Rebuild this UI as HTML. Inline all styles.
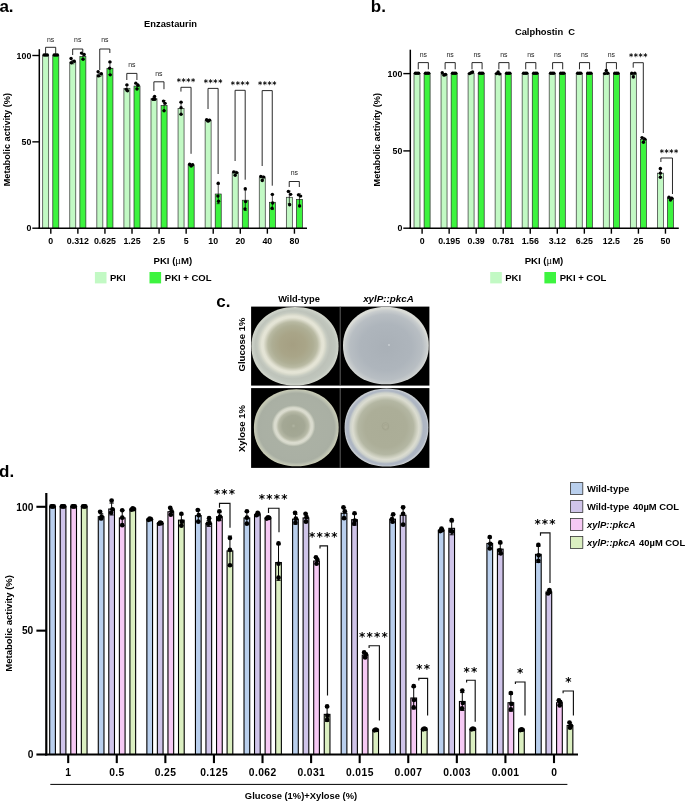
<!DOCTYPE html>
<html lang="en">
<head>
<meta charset="utf-8">
<title>Figure</title>
<style>
html,body{margin:0;padding:0;background:#fff;}
body{width:685px;height:801px;overflow:hidden;font-family:"Liberation Sans",Arial,Helvetica,sans-serif;}
svg{display:block;}
</style>
</head>
<body>
<svg width="685" height="801" viewBox="0 0 685 801" font-family='&quot;Liberation Sans&quot;, Arial, Helvetica, sans-serif'>
<rect x="0" y="0" width="685" height="801" fill="#fff"/>
<g id="panel-a">
<rect x="42.70" y="55.50" width="6.00" height="172.70" fill="#c2f9c4" stroke="#333" stroke-width="0.7"/>
<circle cx="44.10" cy="55.07" r="1.7" fill="#000"/>
<circle cx="45.70" cy="55.07" r="1.7" fill="#000"/>
<circle cx="47.30" cy="55.07" r="1.7" fill="#000"/>
<rect x="52.80" y="55.50" width="6.00" height="172.70" fill="#3df43f" stroke="#2a2a2a" stroke-width="0.7"/>
<circle cx="54.20" cy="55.07" r="1.7" fill="#000"/>
<circle cx="55.80" cy="55.07" r="1.7" fill="#000"/>
<circle cx="57.40" cy="55.07" r="1.7" fill="#000"/>
<rect x="69.77" y="62.06" width="6.00" height="166.14" fill="#c2f9c4" stroke="#333" stroke-width="0.7"/>
<line x1="72.77" y1="60.34" x2="72.77" y2="63.79" stroke="#000" stroke-width="0.7" stroke-linecap="butt"/>
<line x1="71.27" y1="60.34" x2="74.27" y2="60.34" stroke="#000" stroke-width="0.7" stroke-linecap="butt"/>
<line x1="71.27" y1="63.79" x2="74.27" y2="63.79" stroke="#000" stroke-width="0.7" stroke-linecap="butt"/>
<circle cx="71.07" cy="58.44" r="1.7" fill="#000"/>
<circle cx="74.27" cy="61.20" r="1.7" fill="#000"/>
<circle cx="71.37" cy="62.75" r="1.7" fill="#000"/>
<rect x="79.87" y="56.54" width="6.00" height="171.66" fill="#3df43f" stroke="#2a2a2a" stroke-width="0.7"/>
<line x1="82.87" y1="53.95" x2="82.87" y2="59.13" stroke="#000" stroke-width="0.7" stroke-linecap="butt"/>
<line x1="81.37" y1="53.95" x2="84.37" y2="53.95" stroke="#000" stroke-width="0.7" stroke-linecap="butt"/>
<line x1="81.37" y1="59.13" x2="84.37" y2="59.13" stroke="#000" stroke-width="0.7" stroke-linecap="butt"/>
<circle cx="81.47" cy="53.08" r="1.7" fill="#000"/>
<circle cx="84.17" cy="54.46" r="1.7" fill="#000"/>
<circle cx="83.07" cy="59.30" r="1.7" fill="#000"/>
<rect x="96.84" y="74.84" width="6.00" height="153.36" fill="#c2f9c4" stroke="#333" stroke-width="0.7"/>
<line x1="99.84" y1="73.29" x2="99.84" y2="76.40" stroke="#000" stroke-width="0.7" stroke-linecap="butt"/>
<line x1="98.34" y1="73.29" x2="101.34" y2="73.29" stroke="#000" stroke-width="0.7" stroke-linecap="butt"/>
<line x1="98.34" y1="76.40" x2="101.34" y2="76.40" stroke="#000" stroke-width="0.7" stroke-linecap="butt"/>
<circle cx="98.14" cy="71.73" r="1.7" fill="#000"/>
<circle cx="101.34" cy="73.81" r="1.7" fill="#000"/>
<circle cx="98.44" cy="75.88" r="1.7" fill="#000"/>
<rect x="106.94" y="68.28" width="6.00" height="159.92" fill="#3df43f" stroke="#2a2a2a" stroke-width="0.7"/>
<line x1="109.94" y1="62.06" x2="109.94" y2="74.50" stroke="#000" stroke-width="0.7" stroke-linecap="butt"/>
<line x1="108.44" y1="62.06" x2="111.44" y2="62.06" stroke="#000" stroke-width="0.7" stroke-linecap="butt"/>
<line x1="108.44" y1="74.50" x2="111.44" y2="74.50" stroke="#000" stroke-width="0.7" stroke-linecap="butt"/>
<circle cx="109.94" cy="61.89" r="1.7" fill="#000"/>
<circle cx="109.64" cy="68.28" r="1.7" fill="#000"/>
<circle cx="110.24" cy="74.84" r="1.7" fill="#000"/>
<rect x="123.91" y="88.31" width="6.00" height="139.89" fill="#c2f9c4" stroke="#333" stroke-width="0.7"/>
<line x1="126.91" y1="85.55" x2="126.91" y2="91.08" stroke="#000" stroke-width="0.7" stroke-linecap="butt"/>
<line x1="125.41" y1="85.55" x2="128.41" y2="85.55" stroke="#000" stroke-width="0.7" stroke-linecap="butt"/>
<line x1="125.41" y1="91.08" x2="128.41" y2="91.08" stroke="#000" stroke-width="0.7" stroke-linecap="butt"/>
<circle cx="126.91" cy="84.86" r="1.7" fill="#000"/>
<circle cx="126.31" cy="89.35" r="1.7" fill="#000"/>
<circle cx="127.51" cy="90.73" r="1.7" fill="#000"/>
<rect x="134.01" y="86.07" width="6.00" height="142.13" fill="#3df43f" stroke="#2a2a2a" stroke-width="0.7"/>
<line x1="137.01" y1="83.65" x2="137.01" y2="88.49" stroke="#000" stroke-width="0.7" stroke-linecap="butt"/>
<line x1="135.51" y1="83.65" x2="138.51" y2="83.65" stroke="#000" stroke-width="0.7" stroke-linecap="butt"/>
<line x1="135.51" y1="88.49" x2="138.51" y2="88.49" stroke="#000" stroke-width="0.7" stroke-linecap="butt"/>
<circle cx="135.81" cy="83.13" r="1.7" fill="#000"/>
<circle cx="138.01" cy="85.20" r="1.7" fill="#000"/>
<circle cx="137.01" cy="89.00" r="1.7" fill="#000"/>
<rect x="150.98" y="98.68" width="6.00" height="129.52" fill="#c2f9c4" stroke="#333" stroke-width="0.7"/>
<line x1="153.98" y1="96.95" x2="153.98" y2="100.40" stroke="#000" stroke-width="0.7" stroke-linecap="butt"/>
<line x1="152.48" y1="96.95" x2="155.48" y2="96.95" stroke="#000" stroke-width="0.7" stroke-linecap="butt"/>
<line x1="152.48" y1="100.40" x2="155.48" y2="100.40" stroke="#000" stroke-width="0.7" stroke-linecap="butt"/>
<circle cx="154.58" cy="96.43" r="1.7" fill="#000"/>
<circle cx="152.98" cy="99.19" r="1.7" fill="#000"/>
<circle cx="154.88" cy="99.37" r="1.7" fill="#000"/>
<rect x="161.08" y="105.58" width="6.00" height="122.62" fill="#3df43f" stroke="#2a2a2a" stroke-width="0.7"/>
<line x1="164.08" y1="100.57" x2="164.08" y2="110.59" stroke="#000" stroke-width="0.7" stroke-linecap="butt"/>
<line x1="162.58" y1="100.57" x2="165.58" y2="100.57" stroke="#000" stroke-width="0.7" stroke-linecap="butt"/>
<line x1="162.58" y1="110.59" x2="165.58" y2="110.59" stroke="#000" stroke-width="0.7" stroke-linecap="butt"/>
<circle cx="163.48" cy="101.09" r="1.7" fill="#000"/>
<circle cx="165.08" cy="103.34" r="1.7" fill="#000"/>
<circle cx="164.08" cy="110.76" r="1.7" fill="#000"/>
<rect x="178.05" y="108.35" width="6.00" height="119.85" fill="#c2f9c4" stroke="#333" stroke-width="0.7"/>
<line x1="181.05" y1="102.13" x2="181.05" y2="114.56" stroke="#000" stroke-width="0.7" stroke-linecap="butt"/>
<line x1="179.55" y1="102.13" x2="182.55" y2="102.13" stroke="#000" stroke-width="0.7" stroke-linecap="butt"/>
<line x1="179.55" y1="114.56" x2="182.55" y2="114.56" stroke="#000" stroke-width="0.7" stroke-linecap="butt"/>
<circle cx="181.05" cy="102.13" r="1.7" fill="#000"/>
<circle cx="181.05" cy="107.66" r="1.7" fill="#000"/>
<circle cx="181.05" cy="114.22" r="1.7" fill="#000"/>
<rect x="188.15" y="165.16" width="6.00" height="63.04" fill="#3df43f" stroke="#2a2a2a" stroke-width="0.7"/>
<line x1="191.15" y1="164.13" x2="191.15" y2="166.20" stroke="#000" stroke-width="0.7" stroke-linecap="butt"/>
<line x1="189.65" y1="164.13" x2="192.65" y2="164.13" stroke="#000" stroke-width="0.7" stroke-linecap="butt"/>
<line x1="189.65" y1="166.20" x2="192.65" y2="166.20" stroke="#000" stroke-width="0.7" stroke-linecap="butt"/>
<circle cx="189.65" cy="164.30" r="1.7" fill="#000"/>
<circle cx="191.15" cy="166.03" r="1.7" fill="#000"/>
<circle cx="192.65" cy="164.82" r="1.7" fill="#000"/>
<rect x="205.12" y="120.44" width="6.00" height="107.76" fill="#c2f9c4" stroke="#333" stroke-width="0.7"/>
<line x1="208.12" y1="119.40" x2="208.12" y2="121.47" stroke="#000" stroke-width="0.7" stroke-linecap="butt"/>
<line x1="206.62" y1="119.40" x2="209.62" y2="119.40" stroke="#000" stroke-width="0.7" stroke-linecap="butt"/>
<line x1="206.62" y1="121.47" x2="209.62" y2="121.47" stroke="#000" stroke-width="0.7" stroke-linecap="butt"/>
<circle cx="206.62" cy="119.74" r="1.7" fill="#000"/>
<circle cx="208.12" cy="121.13" r="1.7" fill="#000"/>
<circle cx="209.62" cy="120.09" r="1.7" fill="#000"/>
<rect x="215.22" y="194.01" width="6.00" height="34.19" fill="#3df43f" stroke="#2a2a2a" stroke-width="0.7"/>
<line x1="218.22" y1="184.33" x2="218.22" y2="203.68" stroke="#000" stroke-width="0.7" stroke-linecap="butt"/>
<line x1="216.72" y1="184.33" x2="219.72" y2="184.33" stroke="#000" stroke-width="0.7" stroke-linecap="butt"/>
<line x1="216.72" y1="203.68" x2="219.72" y2="203.68" stroke="#000" stroke-width="0.7" stroke-linecap="butt"/>
<circle cx="218.22" cy="183.30" r="1.7" fill="#000"/>
<circle cx="217.92" cy="196.08" r="1.7" fill="#000"/>
<circle cx="218.52" cy="201.26" r="1.7" fill="#000"/>
<rect x="232.19" y="172.76" width="6.00" height="55.44" fill="#c2f9c4" stroke="#333" stroke-width="0.7"/>
<line x1="235.19" y1="171.21" x2="235.19" y2="174.32" stroke="#000" stroke-width="0.7" stroke-linecap="butt"/>
<line x1="233.69" y1="171.21" x2="236.69" y2="171.21" stroke="#000" stroke-width="0.7" stroke-linecap="butt"/>
<line x1="233.69" y1="174.32" x2="236.69" y2="174.32" stroke="#000" stroke-width="0.7" stroke-linecap="butt"/>
<circle cx="233.69" cy="171.90" r="1.7" fill="#000"/>
<circle cx="236.69" cy="172.59" r="1.7" fill="#000"/>
<circle cx="235.19" cy="175.35" r="1.7" fill="#000"/>
<rect x="242.29" y="200.22" width="6.00" height="27.98" fill="#3df43f" stroke="#2a2a2a" stroke-width="0.7"/>
<line x1="245.29" y1="190.03" x2="245.29" y2="210.41" stroke="#000" stroke-width="0.7" stroke-linecap="butt"/>
<line x1="243.79" y1="190.03" x2="246.79" y2="190.03" stroke="#000" stroke-width="0.7" stroke-linecap="butt"/>
<line x1="243.79" y1="210.41" x2="246.79" y2="210.41" stroke="#000" stroke-width="0.7" stroke-linecap="butt"/>
<circle cx="245.29" cy="188.82" r="1.7" fill="#000"/>
<circle cx="245.59" cy="201.60" r="1.7" fill="#000"/>
<circle cx="244.99" cy="208.86" r="1.7" fill="#000"/>
<rect x="259.26" y="177.77" width="6.00" height="50.43" fill="#c2f9c4" stroke="#333" stroke-width="0.7"/>
<line x1="262.26" y1="176.04" x2="262.26" y2="179.50" stroke="#000" stroke-width="0.7" stroke-linecap="butt"/>
<line x1="260.76" y1="176.04" x2="263.76" y2="176.04" stroke="#000" stroke-width="0.7" stroke-linecap="butt"/>
<line x1="260.76" y1="179.50" x2="263.76" y2="179.50" stroke="#000" stroke-width="0.7" stroke-linecap="butt"/>
<circle cx="260.76" cy="176.56" r="1.7" fill="#000"/>
<circle cx="263.76" cy="177.08" r="1.7" fill="#000"/>
<circle cx="262.26" cy="180.53" r="1.7" fill="#000"/>
<rect x="269.36" y="202.29" width="6.00" height="25.91" fill="#3df43f" stroke="#2a2a2a" stroke-width="0.7"/>
<line x1="272.36" y1="195.04" x2="272.36" y2="209.55" stroke="#000" stroke-width="0.7" stroke-linecap="butt"/>
<line x1="270.86" y1="195.04" x2="273.86" y2="195.04" stroke="#000" stroke-width="0.7" stroke-linecap="butt"/>
<line x1="270.86" y1="209.55" x2="273.86" y2="209.55" stroke="#000" stroke-width="0.7" stroke-linecap="butt"/>
<circle cx="272.36" cy="194.35" r="1.7" fill="#000"/>
<circle cx="272.66" cy="202.99" r="1.7" fill="#000"/>
<circle cx="272.06" cy="208.17" r="1.7" fill="#000"/>
<rect x="286.33" y="197.29" width="6.00" height="30.91" fill="#c2f9c4" stroke="#333" stroke-width="0.7"/>
<line x1="289.33" y1="191.07" x2="289.33" y2="203.50" stroke="#000" stroke-width="0.7" stroke-linecap="butt"/>
<line x1="287.83" y1="191.07" x2="290.83" y2="191.07" stroke="#000" stroke-width="0.7" stroke-linecap="butt"/>
<line x1="287.83" y1="203.50" x2="290.83" y2="203.50" stroke="#000" stroke-width="0.7" stroke-linecap="butt"/>
<circle cx="288.33" cy="191.41" r="1.7" fill="#000"/>
<circle cx="290.63" cy="194.35" r="1.7" fill="#000"/>
<circle cx="289.63" cy="204.71" r="1.7" fill="#000"/>
<rect x="296.43" y="199.36" width="6.00" height="28.84" fill="#3df43f" stroke="#2a2a2a" stroke-width="0.7"/>
<line x1="299.43" y1="193.83" x2="299.43" y2="204.89" stroke="#000" stroke-width="0.7" stroke-linecap="butt"/>
<line x1="297.93" y1="193.83" x2="300.93" y2="193.83" stroke="#000" stroke-width="0.7" stroke-linecap="butt"/>
<line x1="297.93" y1="204.89" x2="300.93" y2="204.89" stroke="#000" stroke-width="0.7" stroke-linecap="butt"/>
<circle cx="298.43" cy="194.87" r="1.7" fill="#000"/>
<circle cx="300.63" cy="196.08" r="1.7" fill="#000"/>
<circle cx="299.63" cy="206.09" r="1.7" fill="#000"/>
<line x1="39.30" y1="49.20" x2="39.30" y2="228.95" stroke="#000" stroke-width="1.5" stroke-linecap="butt"/>
<line x1="38.55" y1="228.20" x2="307.00" y2="228.20" stroke="#000" stroke-width="1.5" stroke-linecap="butt"/>
<line x1="32.30" y1="228.20" x2="39.30" y2="228.20" stroke="#000" stroke-width="1.4" stroke-linecap="butt"/>
<text x="31.30" y="231.30" font-size="8.8" font-weight="bold" text-anchor="end" fill="#000" >0</text>
<line x1="32.30" y1="141.85" x2="39.30" y2="141.85" stroke="#000" stroke-width="1.4" stroke-linecap="butt"/>
<text x="31.30" y="144.95" font-size="8.8" font-weight="bold" text-anchor="end" fill="#000" >50</text>
<line x1="32.30" y1="55.50" x2="39.30" y2="55.50" stroke="#000" stroke-width="1.4" stroke-linecap="butt"/>
<text x="31.30" y="58.60" font-size="8.8" font-weight="bold" text-anchor="end" fill="#000" >100</text>
<line x1="50.80" y1="228.20" x2="50.80" y2="233.70" stroke="#000" stroke-width="1.4" stroke-linecap="butt"/>
<text x="50.80" y="244.00" font-size="8.8" font-weight="bold" text-anchor="middle" fill="#000" >0</text>
<line x1="77.87" y1="228.20" x2="77.87" y2="233.70" stroke="#000" stroke-width="1.4" stroke-linecap="butt"/>
<text x="77.87" y="244.00" font-size="8.8" font-weight="bold" text-anchor="middle" fill="#000" >0.312</text>
<line x1="104.94" y1="228.20" x2="104.94" y2="233.70" stroke="#000" stroke-width="1.4" stroke-linecap="butt"/>
<text x="104.94" y="244.00" font-size="8.8" font-weight="bold" text-anchor="middle" fill="#000" >0.625</text>
<line x1="132.01" y1="228.20" x2="132.01" y2="233.70" stroke="#000" stroke-width="1.4" stroke-linecap="butt"/>
<text x="132.01" y="244.00" font-size="8.8" font-weight="bold" text-anchor="middle" fill="#000" >1.25</text>
<line x1="159.08" y1="228.20" x2="159.08" y2="233.70" stroke="#000" stroke-width="1.4" stroke-linecap="butt"/>
<text x="159.08" y="244.00" font-size="8.8" font-weight="bold" text-anchor="middle" fill="#000" >2.5</text>
<line x1="186.15" y1="228.20" x2="186.15" y2="233.70" stroke="#000" stroke-width="1.4" stroke-linecap="butt"/>
<text x="186.15" y="244.00" font-size="8.8" font-weight="bold" text-anchor="middle" fill="#000" >5</text>
<line x1="213.22" y1="228.20" x2="213.22" y2="233.70" stroke="#000" stroke-width="1.4" stroke-linecap="butt"/>
<text x="213.22" y="244.00" font-size="8.8" font-weight="bold" text-anchor="middle" fill="#000" >10</text>
<line x1="240.29" y1="228.20" x2="240.29" y2="233.70" stroke="#000" stroke-width="1.4" stroke-linecap="butt"/>
<text x="240.29" y="244.00" font-size="8.8" font-weight="bold" text-anchor="middle" fill="#000" >20</text>
<line x1="267.36" y1="228.20" x2="267.36" y2="233.70" stroke="#000" stroke-width="1.4" stroke-linecap="butt"/>
<text x="267.36" y="244.00" font-size="8.8" font-weight="bold" text-anchor="middle" fill="#000" >40</text>
<line x1="294.43" y1="228.20" x2="294.43" y2="233.70" stroke="#000" stroke-width="1.4" stroke-linecap="butt"/>
<text x="294.43" y="244.00" font-size="8.8" font-weight="bold" text-anchor="middle" fill="#000" >80</text>
<path d="M45.60 54.50 V47.30 H55.70 V54.50" fill="none" stroke="#111" stroke-width="0.9"/>
<text x="50.65" y="42.20" font-size="6.9" font-weight="normal" text-anchor="middle" fill="#222" >ns</text>
<path d="M72.67 55.00 V49.00 H82.77 V52.80" fill="none" stroke="#111" stroke-width="0.9"/>
<text x="77.72" y="42.20" font-size="6.9" font-weight="normal" text-anchor="middle" fill="#222" >ns</text>
<path d="M99.74 70.00 V49.00 H109.84 V53.00" fill="none" stroke="#111" stroke-width="0.9"/>
<text x="104.79" y="42.40" font-size="6.9" font-weight="normal" text-anchor="middle" fill="#222" >ns</text>
<path d="M126.81 80.00 V73.40 H136.91 V80.00" fill="none" stroke="#111" stroke-width="0.9"/>
<text x="131.86" y="67.30" font-size="6.9" font-weight="normal" text-anchor="middle" fill="#222" >ns</text>
<path d="M153.88 91.00 V81.80 H163.98 V89.20" fill="none" stroke="#111" stroke-width="0.9"/>
<text x="158.93" y="76.00" font-size="6.9" font-weight="normal" text-anchor="middle" fill="#222" >ns</text>
<path d="M180.95 91.60 V87.30 H191.05 V153.80" fill="none" stroke="#111" stroke-width="0.9"/>
<text x="186.30" y="85.10" font-size="8.0" font-family="'DejaVu Sans', 'Liberation Sans', sans-serif" font-weight="bold" text-anchor="middle" letter-spacing="0.6" fill="#000">****</text>
<path d="M208.02 109.00 V88.40 H218.12 V174.00" fill="none" stroke="#111" stroke-width="0.9"/>
<text x="213.37" y="86.20" font-size="8.0" font-family="'DejaVu Sans', 'Liberation Sans', sans-serif" font-weight="bold" text-anchor="middle" letter-spacing="0.6" fill="#000">****</text>
<path d="M235.09 161.00 V90.30 H245.19 V179.70" fill="none" stroke="#111" stroke-width="0.9"/>
<text x="240.44" y="87.80" font-size="8.0" font-family="'DejaVu Sans', 'Liberation Sans', sans-serif" font-weight="bold" text-anchor="middle" letter-spacing="0.6" fill="#000">****</text>
<path d="M262.16 166.00 V90.60 H272.26 V185.70" fill="none" stroke="#111" stroke-width="0.9"/>
<text x="267.51" y="88.10" font-size="8.0" font-family="'DejaVu Sans', 'Liberation Sans', sans-serif" font-weight="bold" text-anchor="middle" letter-spacing="0.6" fill="#000">****</text>
<path d="M289.23 187.00 V181.50 H299.33 V187.00" fill="none" stroke="#111" stroke-width="0.9"/>
<text x="294.28" y="174.70" font-size="6.9" font-weight="normal" text-anchor="middle" fill="#222" >ns</text>
<text x="170.50" y="26.80" font-size="9.35" font-weight="bold" text-anchor="middle" fill="#000" xml:space="preserve">Enzastaurin</text>
<text transform="translate(9.60,139.65) rotate(-90)" font-size="9.2" font-weight="bold" text-anchor="middle" fill="#000">Metabolic activity (%)</text>
<text x="172.80" y="263.80" font-size="9.6" font-weight="bold" text-anchor="middle">PKI (<tspan font-weight="normal" font-family="'Liberation Serif', 'DejaVu Serif', serif" font-size="10.4">μ</tspan>M)</text>
<rect x="94.90" y="272.00" width="11.60" height="11.40" fill="#c2f9c4"/>
<text x="109.90" y="281.20" font-size="9.5" font-weight="bold" text-anchor="start" fill="#000" >PKI</text>
<rect x="149.50" y="272.00" width="11.60" height="11.40" fill="#3df43f"/>
<text x="164.80" y="281.20" font-size="9.5" font-weight="bold" text-anchor="start" fill="#000" >PKI + COL</text>
<text x="-0.60" y="12.00" font-size="17" font-weight="bold" text-anchor="start" fill="#000" >a.</text>
</g>
<g id="panel-b">
<rect x="414.00" y="73.60" width="6.00" height="154.60" fill="#c2f9c4" stroke="#333" stroke-width="0.7"/>
<circle cx="415.40" cy="73.21" r="1.7" fill="#000"/>
<circle cx="417.00" cy="73.21" r="1.7" fill="#000"/>
<circle cx="418.60" cy="73.21" r="1.7" fill="#000"/>
<rect x="424.10" y="73.60" width="6.00" height="154.60" fill="#3df43f" stroke="#2a2a2a" stroke-width="0.7"/>
<circle cx="425.50" cy="73.21" r="1.7" fill="#000"/>
<circle cx="427.10" cy="73.21" r="1.7" fill="#000"/>
<circle cx="428.70" cy="73.21" r="1.7" fill="#000"/>
<rect x="441.04" y="74.22" width="6.00" height="153.98" fill="#c2f9c4" stroke="#333" stroke-width="0.7"/>
<line x1="444.04" y1="73.60" x2="444.04" y2="74.84" stroke="#000" stroke-width="0.7" stroke-linecap="butt"/>
<line x1="442.54" y1="73.60" x2="445.54" y2="73.60" stroke="#000" stroke-width="0.7" stroke-linecap="butt"/>
<line x1="442.54" y1="74.84" x2="445.54" y2="74.84" stroke="#000" stroke-width="0.7" stroke-linecap="butt"/>
<circle cx="442.24" cy="72.67" r="1.7" fill="#000"/>
<circle cx="444.04" cy="75.15" r="1.7" fill="#000"/>
<circle cx="445.54" cy="74.53" r="1.7" fill="#000"/>
<rect x="451.14" y="73.60" width="6.00" height="154.60" fill="#3df43f" stroke="#2a2a2a" stroke-width="0.7"/>
<circle cx="452.54" cy="73.21" r="1.7" fill="#000"/>
<circle cx="454.14" cy="73.21" r="1.7" fill="#000"/>
<circle cx="455.74" cy="73.21" r="1.7" fill="#000"/>
<rect x="468.08" y="73.29" width="6.00" height="154.91" fill="#c2f9c4" stroke="#333" stroke-width="0.7"/>
<line x1="471.08" y1="72.67" x2="471.08" y2="73.91" stroke="#000" stroke-width="0.7" stroke-linecap="butt"/>
<line x1="469.58" y1="72.67" x2="472.58" y2="72.67" stroke="#000" stroke-width="0.7" stroke-linecap="butt"/>
<line x1="469.58" y1="73.91" x2="472.58" y2="73.91" stroke="#000" stroke-width="0.7" stroke-linecap="butt"/>
<circle cx="469.48" cy="73.60" r="1.7" fill="#000"/>
<circle cx="471.08" cy="72.67" r="1.7" fill="#000"/>
<circle cx="472.58" cy="72.05" r="1.7" fill="#000"/>
<rect x="478.18" y="73.60" width="6.00" height="154.60" fill="#3df43f" stroke="#2a2a2a" stroke-width="0.7"/>
<circle cx="479.58" cy="73.21" r="1.7" fill="#000"/>
<circle cx="481.18" cy="73.21" r="1.7" fill="#000"/>
<circle cx="482.78" cy="73.21" r="1.7" fill="#000"/>
<rect x="495.12" y="73.60" width="6.00" height="154.60" fill="#c2f9c4" stroke="#333" stroke-width="0.7"/>
<line x1="498.12" y1="72.98" x2="498.12" y2="74.22" stroke="#000" stroke-width="0.7" stroke-linecap="butt"/>
<line x1="496.62" y1="72.98" x2="499.62" y2="72.98" stroke="#000" stroke-width="0.7" stroke-linecap="butt"/>
<line x1="496.62" y1="74.22" x2="499.62" y2="74.22" stroke="#000" stroke-width="0.7" stroke-linecap="butt"/>
<circle cx="496.52" cy="73.60" r="1.7" fill="#000"/>
<circle cx="498.12" cy="72.05" r="1.7" fill="#000"/>
<circle cx="499.62" cy="73.91" r="1.7" fill="#000"/>
<rect x="505.22" y="73.60" width="6.00" height="154.60" fill="#3df43f" stroke="#2a2a2a" stroke-width="0.7"/>
<circle cx="506.62" cy="73.21" r="1.7" fill="#000"/>
<circle cx="508.22" cy="73.21" r="1.7" fill="#000"/>
<circle cx="509.82" cy="73.21" r="1.7" fill="#000"/>
<rect x="522.16" y="73.60" width="6.00" height="154.60" fill="#c2f9c4" stroke="#333" stroke-width="0.7"/>
<circle cx="523.56" cy="73.21" r="1.7" fill="#000"/>
<circle cx="525.16" cy="73.21" r="1.7" fill="#000"/>
<circle cx="526.76" cy="73.21" r="1.7" fill="#000"/>
<rect x="532.26" y="73.60" width="6.00" height="154.60" fill="#3df43f" stroke="#2a2a2a" stroke-width="0.7"/>
<circle cx="533.66" cy="73.21" r="1.7" fill="#000"/>
<circle cx="535.26" cy="73.21" r="1.7" fill="#000"/>
<circle cx="536.86" cy="73.21" r="1.7" fill="#000"/>
<rect x="549.20" y="73.60" width="6.00" height="154.60" fill="#c2f9c4" stroke="#333" stroke-width="0.7"/>
<circle cx="550.60" cy="73.21" r="1.7" fill="#000"/>
<circle cx="552.20" cy="73.21" r="1.7" fill="#000"/>
<circle cx="553.80" cy="73.21" r="1.7" fill="#000"/>
<rect x="559.30" y="73.60" width="6.00" height="154.60" fill="#3df43f" stroke="#2a2a2a" stroke-width="0.7"/>
<circle cx="560.70" cy="73.21" r="1.7" fill="#000"/>
<circle cx="562.30" cy="73.21" r="1.7" fill="#000"/>
<circle cx="563.90" cy="73.21" r="1.7" fill="#000"/>
<rect x="576.24" y="73.60" width="6.00" height="154.60" fill="#c2f9c4" stroke="#333" stroke-width="0.7"/>
<circle cx="577.64" cy="73.21" r="1.7" fill="#000"/>
<circle cx="579.24" cy="73.21" r="1.7" fill="#000"/>
<circle cx="580.84" cy="73.21" r="1.7" fill="#000"/>
<rect x="586.34" y="73.60" width="6.00" height="154.60" fill="#3df43f" stroke="#2a2a2a" stroke-width="0.7"/>
<circle cx="587.74" cy="73.21" r="1.7" fill="#000"/>
<circle cx="589.34" cy="73.21" r="1.7" fill="#000"/>
<circle cx="590.94" cy="73.21" r="1.7" fill="#000"/>
<rect x="603.28" y="73.14" width="6.00" height="155.06" fill="#c2f9c4" stroke="#333" stroke-width="0.7"/>
<line x1="606.28" y1="71.90" x2="606.28" y2="74.37" stroke="#000" stroke-width="0.7" stroke-linecap="butt"/>
<line x1="604.78" y1="71.90" x2="607.78" y2="71.90" stroke="#000" stroke-width="0.7" stroke-linecap="butt"/>
<line x1="604.78" y1="74.37" x2="607.78" y2="74.37" stroke="#000" stroke-width="0.7" stroke-linecap="butt"/>
<circle cx="604.68" cy="73.60" r="1.7" fill="#000"/>
<circle cx="606.28" cy="70.51" r="1.7" fill="#000"/>
<circle cx="607.78" cy="73.29" r="1.7" fill="#000"/>
<rect x="613.38" y="73.60" width="6.00" height="154.60" fill="#3df43f" stroke="#2a2a2a" stroke-width="0.7"/>
<circle cx="614.78" cy="73.21" r="1.7" fill="#000"/>
<circle cx="616.38" cy="73.21" r="1.7" fill="#000"/>
<circle cx="617.98" cy="73.21" r="1.7" fill="#000"/>
<rect x="630.32" y="74.22" width="6.00" height="153.98" fill="#c2f9c4" stroke="#333" stroke-width="0.7"/>
<line x1="633.32" y1="72.67" x2="633.32" y2="75.76" stroke="#000" stroke-width="0.7" stroke-linecap="butt"/>
<line x1="631.82" y1="72.67" x2="634.82" y2="72.67" stroke="#000" stroke-width="0.7" stroke-linecap="butt"/>
<line x1="631.82" y1="75.76" x2="634.82" y2="75.76" stroke="#000" stroke-width="0.7" stroke-linecap="butt"/>
<circle cx="631.72" cy="73.29" r="1.7" fill="#000"/>
<circle cx="633.32" cy="77.00" r="1.7" fill="#000"/>
<circle cx="634.82" cy="73.14" r="1.7" fill="#000"/>
<rect x="640.42" y="139.46" width="6.00" height="88.74" fill="#3df43f" stroke="#2a2a2a" stroke-width="0.7"/>
<line x1="643.42" y1="137.45" x2="643.42" y2="141.47" stroke="#000" stroke-width="0.7" stroke-linecap="butt"/>
<line x1="641.92" y1="137.45" x2="644.92" y2="137.45" stroke="#000" stroke-width="0.7" stroke-linecap="butt"/>
<line x1="641.92" y1="141.47" x2="644.92" y2="141.47" stroke="#000" stroke-width="0.7" stroke-linecap="butt"/>
<circle cx="642.02" cy="137.60" r="1.7" fill="#000"/>
<circle cx="644.82" cy="139.15" r="1.7" fill="#000"/>
<circle cx="643.42" cy="142.24" r="1.7" fill="#000"/>
<rect x="657.36" y="173.16" width="6.00" height="55.04" fill="#c2f9c4" stroke="#333" stroke-width="0.7"/>
<line x1="660.36" y1="169.45" x2="660.36" y2="176.87" stroke="#000" stroke-width="0.7" stroke-linecap="butt"/>
<line x1="658.86" y1="169.45" x2="661.86" y2="169.45" stroke="#000" stroke-width="0.7" stroke-linecap="butt"/>
<line x1="658.86" y1="176.87" x2="661.86" y2="176.87" stroke="#000" stroke-width="0.7" stroke-linecap="butt"/>
<circle cx="660.36" cy="168.52" r="1.7" fill="#000"/>
<circle cx="660.36" cy="173.16" r="1.7" fill="#000"/>
<circle cx="660.36" cy="177.18" r="1.7" fill="#000"/>
<rect x="667.46" y="198.36" width="6.00" height="29.84" fill="#3df43f" stroke="#2a2a2a" stroke-width="0.7"/>
<line x1="670.46" y1="197.28" x2="670.46" y2="199.44" stroke="#000" stroke-width="0.7" stroke-linecap="butt"/>
<line x1="668.96" y1="197.28" x2="671.96" y2="197.28" stroke="#000" stroke-width="0.7" stroke-linecap="butt"/>
<line x1="668.96" y1="199.44" x2="671.96" y2="199.44" stroke="#000" stroke-width="0.7" stroke-linecap="butt"/>
<circle cx="668.96" cy="197.28" r="1.7" fill="#000"/>
<circle cx="671.86" cy="198.21" r="1.7" fill="#000"/>
<circle cx="670.46" cy="200.06" r="1.7" fill="#000"/>
<line x1="410.30" y1="49.70" x2="410.30" y2="228.95" stroke="#000" stroke-width="1.5" stroke-linecap="butt"/>
<line x1="409.55" y1="228.20" x2="678.80" y2="228.20" stroke="#000" stroke-width="1.5" stroke-linecap="butt"/>
<line x1="403.30" y1="228.20" x2="410.30" y2="228.20" stroke="#000" stroke-width="1.4" stroke-linecap="butt"/>
<text x="402.30" y="231.30" font-size="8.8" font-weight="bold" text-anchor="end" fill="#000" >0</text>
<line x1="403.30" y1="150.90" x2="410.30" y2="150.90" stroke="#000" stroke-width="1.4" stroke-linecap="butt"/>
<text x="402.30" y="154.00" font-size="8.8" font-weight="bold" text-anchor="end" fill="#000" >50</text>
<line x1="403.30" y1="73.60" x2="410.30" y2="73.60" stroke="#000" stroke-width="1.4" stroke-linecap="butt"/>
<text x="402.30" y="76.70" font-size="8.8" font-weight="bold" text-anchor="end" fill="#000" >100</text>
<line x1="422.10" y1="228.20" x2="422.10" y2="233.70" stroke="#000" stroke-width="1.4" stroke-linecap="butt"/>
<text x="422.10" y="244.00" font-size="8.8" font-weight="bold" text-anchor="middle" fill="#000" >0</text>
<line x1="449.14" y1="228.20" x2="449.14" y2="233.70" stroke="#000" stroke-width="1.4" stroke-linecap="butt"/>
<text x="449.14" y="244.00" font-size="8.8" font-weight="bold" text-anchor="middle" fill="#000" >0.195</text>
<line x1="476.18" y1="228.20" x2="476.18" y2="233.70" stroke="#000" stroke-width="1.4" stroke-linecap="butt"/>
<text x="476.18" y="244.00" font-size="8.8" font-weight="bold" text-anchor="middle" fill="#000" >0.39</text>
<line x1="503.22" y1="228.20" x2="503.22" y2="233.70" stroke="#000" stroke-width="1.4" stroke-linecap="butt"/>
<text x="503.22" y="244.00" font-size="8.8" font-weight="bold" text-anchor="middle" fill="#000" >0.781</text>
<line x1="530.26" y1="228.20" x2="530.26" y2="233.70" stroke="#000" stroke-width="1.4" stroke-linecap="butt"/>
<text x="530.26" y="244.00" font-size="8.8" font-weight="bold" text-anchor="middle" fill="#000" >1.56</text>
<line x1="557.30" y1="228.20" x2="557.30" y2="233.70" stroke="#000" stroke-width="1.4" stroke-linecap="butt"/>
<text x="557.30" y="244.00" font-size="8.8" font-weight="bold" text-anchor="middle" fill="#000" >3.12</text>
<line x1="584.34" y1="228.20" x2="584.34" y2="233.70" stroke="#000" stroke-width="1.4" stroke-linecap="butt"/>
<text x="584.34" y="244.00" font-size="8.8" font-weight="bold" text-anchor="middle" fill="#000" >6.25</text>
<line x1="611.38" y1="228.20" x2="611.38" y2="233.70" stroke="#000" stroke-width="1.4" stroke-linecap="butt"/>
<text x="611.38" y="244.00" font-size="8.8" font-weight="bold" text-anchor="middle" fill="#000" >12.5</text>
<line x1="638.42" y1="228.20" x2="638.42" y2="233.70" stroke="#000" stroke-width="1.4" stroke-linecap="butt"/>
<text x="638.42" y="244.00" font-size="8.8" font-weight="bold" text-anchor="middle" fill="#000" >25</text>
<line x1="665.46" y1="228.20" x2="665.46" y2="233.70" stroke="#000" stroke-width="1.4" stroke-linecap="butt"/>
<text x="665.46" y="244.00" font-size="8.8" font-weight="bold" text-anchor="middle" fill="#000" >50</text>
<path d="M418.25 69.30 V62.60 H428.35 V69.30" fill="none" stroke="#111" stroke-width="0.9"/>
<text x="423.30" y="56.50" font-size="6.9" font-weight="normal" text-anchor="middle" fill="#222" >ns</text>
<path d="M445.12 69.30 V62.60 H455.22 V69.30" fill="none" stroke="#111" stroke-width="0.9"/>
<text x="450.17" y="56.50" font-size="6.9" font-weight="normal" text-anchor="middle" fill="#222" >ns</text>
<path d="M471.99 69.30 V62.60 H482.09 V69.30" fill="none" stroke="#111" stroke-width="0.9"/>
<text x="477.04" y="56.50" font-size="6.9" font-weight="normal" text-anchor="middle" fill="#222" >ns</text>
<path d="M498.86 69.30 V62.60 H508.96 V69.30" fill="none" stroke="#111" stroke-width="0.9"/>
<text x="503.91" y="56.50" font-size="6.9" font-weight="normal" text-anchor="middle" fill="#222" >ns</text>
<path d="M525.73 69.30 V62.60 H535.83 V69.30" fill="none" stroke="#111" stroke-width="0.9"/>
<text x="530.78" y="56.50" font-size="6.9" font-weight="normal" text-anchor="middle" fill="#222" >ns</text>
<path d="M552.60 69.30 V62.60 H562.70 V69.30" fill="none" stroke="#111" stroke-width="0.9"/>
<text x="557.65" y="56.50" font-size="6.9" font-weight="normal" text-anchor="middle" fill="#222" >ns</text>
<path d="M579.47 69.30 V62.60 H589.57 V69.30" fill="none" stroke="#111" stroke-width="0.9"/>
<text x="584.52" y="56.50" font-size="6.9" font-weight="normal" text-anchor="middle" fill="#222" >ns</text>
<path d="M606.34 69.30 V62.60 H616.44 V69.30" fill="none" stroke="#111" stroke-width="0.9"/>
<text x="611.39" y="56.50" font-size="6.9" font-weight="normal" text-anchor="middle" fill="#222" >ns</text>
<path d="M633.21 67.70 V62.70 H643.31 V133.00" fill="none" stroke="#111" stroke-width="0.9"/>
<text x="638.56" y="60.10" font-size="8.0" font-family="'DejaVu Sans', 'Liberation Sans', sans-serif" font-weight="bold" text-anchor="middle" letter-spacing="0.6" fill="#000">****</text>
<path d="M660.88 162.00 V158.00 H672.48 V194.00" fill="none" stroke="#111" stroke-width="0.9"/>
<text x="669.33" y="155.80" font-size="8.0" font-family="'DejaVu Sans', 'Liberation Sans', sans-serif" font-weight="bold" text-anchor="middle" letter-spacing="0.6" fill="#000">****</text>
<text x="545.00" y="35.20" font-size="9.35" font-weight="bold" text-anchor="middle" fill="#000" xml:space="preserve">Calphostin  C</text>
<text transform="translate(380.00,139.70) rotate(-90)" font-size="9.2" font-weight="bold" text-anchor="middle" fill="#000">Metabolic activity (%)</text>
<text x="544.00" y="263.80" font-size="9.6" font-weight="bold" text-anchor="middle">PKI (<tspan font-weight="normal" font-family="'Liberation Serif', 'DejaVu Serif', serif" font-size="10.4">μ</tspan>M)</text>
<rect x="490.20" y="272.00" width="11.60" height="11.40" fill="#c2f9c4"/>
<text x="505.20" y="281.20" font-size="9.5" font-weight="bold" text-anchor="start" fill="#000" >PKI</text>
<rect x="544.40" y="272.00" width="11.60" height="11.40" fill="#3df43f"/>
<text x="559.70" y="281.20" font-size="9.5" font-weight="bold" text-anchor="start" fill="#000" >PKI + COL</text>
<text x="370.80" y="12.00" font-size="17" font-weight="bold" text-anchor="start" fill="#000" >b.</text>
</g>
<g id="panel-c">
<defs>
<radialGradient id="gTLd" cx="0.5" cy="0.5" r="0.5">
 <stop offset="0" stop-color="#bdc2b8"/>
 <stop offset="0.8" stop-color="#bdc2b9"/>
 <stop offset="0.92" stop-color="#c0c6bd"/>
 <stop offset="0.97" stop-color="#c9cec5"/>
 <stop offset="1" stop-color="#d0d4c9"/>
</radialGradient>
<radialGradient id="gTLc" cx="0.5" cy="0.5" r="0.5">
 <stop offset="0" stop-color="#a59f82"/>
 <stop offset="0.35" stop-color="#a9a588"/>
 <stop offset="0.55" stop-color="#aeae94"/>
 <stop offset="0.66" stop-color="#b9baa3"/>
 <stop offset="0.73" stop-color="#d2d2c0"/>
 <stop offset="0.78" stop-color="#e3e3d4"/>
 <stop offset="0.83" stop-color="#e4e4d6"/>
 <stop offset="0.88" stop-color="#d6d8ca"/>
 <stop offset="0.93" stop-color="#c6cbc1"/>
 <stop offset="1" stop-color="#bdc2b9"/>
</radialGradient>
<radialGradient id="gTR" cx="0.5" cy="0.52" r="0.5">
 <stop offset="0" stop-color="#a9b0b7"/>
 <stop offset="0.6" stop-color="#aeb5bc"/>
 <stop offset="0.85" stop-color="#b8bec3"/>
 <stop offset="0.95" stop-color="#c9cdce"/>
 <stop offset="1" stop-color="#dadcd7"/>
</radialGradient>
<radialGradient id="gBLd" cx="0.5" cy="0.5" r="0.5">
 <stop offset="0" stop-color="#acb2a5"/>
 <stop offset="0.8" stop-color="#aab0a4"/>
 <stop offset="0.9" stop-color="#a9afa3"/>
 <stop offset="0.95" stop-color="#b9beaf"/>
 <stop offset="1" stop-color="#c8cbb5"/>
</radialGradient>
<radialGradient id="gBLc" cx="0.5" cy="0.5" r="0.5">
 <stop offset="0" stop-color="#b1b4a2"/>
 <stop offset="0.1" stop-color="#a1a591"/>
 <stop offset="0.5" stop-color="#a4a895"/>
 <stop offset="0.68" stop-color="#b6b9a6"/>
 <stop offset="0.8" stop-color="#dbdccf"/>
 <stop offset="0.88" stop-color="#d7d9cc"/>
 <stop offset="0.96" stop-color="#b8bdaf"/>
 <stop offset="1" stop-color="#aab0a4"/>
</radialGradient>
<radialGradient id="gBRd" cx="0.5" cy="0.5" r="0.5">
 <stop offset="0" stop-color="#adb5c2"/>
 <stop offset="0.9" stop-color="#adb5c2"/>
 <stop offset="0.96" stop-color="#afb7c4"/>
 <stop offset="1" stop-color="#c9ced2"/>
</radialGradient>
<radialGradient id="gBRc" cx="0.5" cy="0.5" r="0.5">
 <stop offset="0" stop-color="#b0b19b"/>
 <stop offset="0.08" stop-color="#a7a892"/>
 <stop offset="0.1" stop-color="#abad97"/>
 <stop offset="0.55" stop-color="#acae98"/>
 <stop offset="0.74" stop-color="#b4b7a3"/>
 <stop offset="0.82" stop-color="#cbcdbd"/>
 <stop offset="0.88" stop-color="#dbdcd0"/>
 <stop offset="0.94" stop-color="#cfd3cc"/>
 <stop offset="1" stop-color="#adb5c2"/>
</radialGradient>
<filter id="soft" x="-5%" y="-5%" width="110%" height="110%"><feGaussianBlur stdDeviation="0.5"/></filter>
</defs>
<rect x="251.10" y="306.60" width="178.30" height="79.00" fill="#000"/>
<rect x="251.10" y="388.10" width="178.30" height="79.80" fill="#000"/>
<line x1="340.20" y1="306.60" x2="340.20" y2="385.60" stroke="#777" stroke-width="0.8" stroke-linecap="butt"/>
<line x1="340.20" y1="388.10" x2="340.20" y2="467.90" stroke="#777" stroke-width="0.8" stroke-linecap="butt"/>
<g filter="url(#soft)">
<polygon points="338.60,346.30 338.44,350.23 337.97,353.84 337.20,357.28 336.12,360.58 334.74,363.74 333.07,366.74 331.12,369.56 328.91,372.20 326.44,374.64 323.74,376.86 320.81,378.86 317.67,380.61 314.35,382.12 310.85,383.36 307.18,384.34 303.36,385.04 299.36,385.46 295.00,385.60 290.64,385.46 286.64,385.04 282.82,384.34 279.15,383.36 275.65,382.12 272.33,380.61 269.19,378.86 266.26,376.86 263.56,374.64 261.09,372.20 258.88,369.56 256.93,366.74 255.26,363.74 253.88,360.58 252.80,357.28 252.03,353.84 251.56,350.23 251.40,346.30 251.56,342.37 252.03,338.76 252.80,335.32 253.88,332.02 255.26,328.86 256.93,325.86 258.88,323.04 261.09,320.40 263.56,317.96 266.26,315.74 269.19,313.74 272.33,311.99 275.65,310.48 279.15,309.24 282.82,308.26 286.64,307.56 290.64,307.14 295.00,307.00 299.36,307.14 303.36,307.56 307.18,308.26 310.85,309.24 314.35,310.48 317.67,311.99 320.81,313.74 323.74,315.74 326.44,317.96 328.91,320.40 331.12,323.04 333.07,325.86 334.74,328.86 336.12,332.02 337.20,335.32 337.97,338.76 338.44,342.37" fill="url(#gTLd)" />
<ellipse cx="292.6" cy="344.6" rx="37.4" ry="34.4" fill="url(#gTLc)"/>
<polygon points="428.80,345.60 428.65,349.47 428.18,353.02 427.42,356.41 426.36,359.66 425.00,362.77 423.36,365.72 421.44,368.51 419.26,371.11 416.84,373.51 414.17,375.70 411.29,377.66 408.21,379.39 404.94,380.87 401.49,382.09 397.89,383.05 394.13,383.75 390.19,384.16 385.90,384.30 381.61,384.16 377.67,383.75 373.91,383.05 370.31,382.09 366.86,380.87 363.59,379.39 360.51,377.66 357.63,375.70 354.96,373.51 352.54,371.11 350.36,368.51 348.44,365.72 346.80,362.77 345.44,359.66 344.38,356.41 343.62,353.02 343.15,349.47 343.00,345.60 343.15,341.73 343.62,338.18 344.38,334.79 345.44,331.54 346.80,328.43 348.44,325.48 350.36,322.69 352.54,320.09 354.96,317.69 357.63,315.50 360.51,313.54 363.59,311.81 366.86,310.33 370.31,309.11 373.91,308.15 377.67,307.45 381.61,307.04 385.90,306.90 390.19,307.04 394.13,307.45 397.89,308.15 401.49,309.11 404.94,310.33 408.21,311.81 411.29,313.54 414.17,315.50 416.84,317.69 419.26,320.09 421.44,322.69 423.36,325.48 425.00,328.43 426.36,331.54 427.42,334.79 428.18,338.18 428.65,341.73" fill="url(#gTR)" />
<circle cx="389" cy="345" r="0.8" fill="#dfe4e6"/>
<polygon points="338.70,427.80 338.55,431.65 338.09,435.18 337.34,438.56 336.28,441.79 334.94,444.88 333.32,447.82 331.43,450.59 329.27,453.17 326.88,455.56 324.24,457.74 321.40,459.70 318.35,461.41 315.11,462.89 311.71,464.11 308.15,465.06 304.43,465.75 300.54,466.16 296.30,466.30 292.06,466.16 288.17,465.75 284.45,465.06 280.89,464.11 277.49,462.89 274.25,461.41 271.20,459.70 268.36,457.74 265.72,455.56 263.33,453.17 261.17,450.59 259.28,447.82 257.66,444.88 256.32,441.79 255.26,438.56 254.51,435.18 254.05,431.65 253.90,427.80 254.05,423.95 254.51,420.42 255.26,417.04 256.32,413.81 257.66,410.72 259.28,407.78 261.17,405.01 263.33,402.43 265.72,400.04 268.36,397.86 271.20,395.90 274.25,394.19 277.49,392.71 280.89,391.49 284.45,390.54 288.17,389.85 292.06,389.44 296.30,389.30 300.54,389.44 304.43,389.85 308.15,390.54 311.71,391.49 315.11,392.71 318.35,394.19 321.40,395.90 324.24,397.86 326.88,400.04 329.27,402.43 331.43,405.01 333.32,407.78 334.94,410.72 336.28,413.81 337.34,417.04 338.09,420.42 338.55,423.95" fill="url(#gBLd)" />
<ellipse cx="293.5" cy="425.9" rx="22.0" ry="20.8" fill="url(#gBLc)"/>
<polygon points="428.40,427.60 428.25,431.50 427.80,435.08 427.05,438.50 426.01,441.77 424.69,444.91 423.08,447.88 421.21,450.68 419.09,453.30 416.71,455.72 414.12,457.93 411.30,459.91 408.29,461.65 405.09,463.14 401.73,464.38 398.21,465.35 394.53,466.04 390.69,466.46 386.50,466.60 382.31,466.46 378.47,466.04 374.79,465.35 371.27,464.38 367.91,463.14 364.71,461.65 361.70,459.91 358.88,457.93 356.29,455.72 353.91,453.30 351.79,450.68 349.92,447.88 348.31,444.91 346.99,441.77 345.95,438.50 345.20,435.08 344.75,431.50 344.60,427.60 344.75,423.70 345.20,420.12 345.95,416.70 346.99,413.43 348.31,410.29 349.92,407.32 351.79,404.52 353.91,401.90 356.29,399.48 358.88,397.27 361.70,395.29 364.71,393.55 367.91,392.06 371.27,390.82 374.79,389.85 378.47,389.16 382.31,388.74 386.50,388.60 390.69,388.74 394.53,389.16 398.21,389.85 401.73,390.82 405.09,392.06 408.29,393.55 411.30,395.29 414.12,397.27 416.71,399.48 419.09,401.90 421.21,404.52 423.08,407.32 424.69,410.29 426.01,413.43 427.05,416.70 427.80,420.12 428.25,423.70" fill="url(#gBRd)" />
<ellipse cx="385.8" cy="427.4" rx="37.6" ry="36.6" fill="url(#gBRc)"/>
<circle cx="385.4" cy="426.0" r="3.4" fill="none" stroke="#a0a18b" stroke-width="0.6"/>
</g>
<text x="299.00" y="301.90" font-size="9.3" font-weight="bold" text-anchor="middle" fill="#000" >Wild-type</text>
<text x="388.50" y="301.90" font-size="9.8" font-weight="bold" text-anchor="middle" fill="#000" font-style="italic">xylP::pkcA</text>
<text transform="translate(244.60,344.50) rotate(-90)" font-size="9.5" font-weight="bold" text-anchor="middle" fill="#000">Glucose 1%</text>
<text transform="translate(244.60,428.50) rotate(-90)" font-size="9.5" font-weight="bold" text-anchor="middle" fill="#000">Xylose 1%</text>
<text x="216.20" y="307.10" font-size="17" font-weight="bold" text-anchor="start" fill="#000" >c.</text>
</g>
<g id="panel-d">
<rect x="49.70" y="506.80" width="5.70" height="247.70" fill="#b9cfed" stroke="#000" stroke-width="1.1"/>
<circle cx="51.40" cy="506.43" r="2.35" fill="#000"/>
<circle cx="52.55" cy="506.43" r="2.35" fill="#000"/>
<circle cx="53.70" cy="506.43" r="2.35" fill="#000"/>
<rect x="60.20" y="506.80" width="5.70" height="247.70" fill="#cfc4e9" stroke="#000" stroke-width="1.1"/>
<circle cx="61.90" cy="506.43" r="2.35" fill="#000"/>
<circle cx="63.05" cy="506.43" r="2.35" fill="#000"/>
<circle cx="64.20" cy="506.43" r="2.35" fill="#000"/>
<rect x="70.80" y="506.80" width="5.70" height="247.70" fill="#f6c9f4" stroke="#000" stroke-width="1.1"/>
<circle cx="72.50" cy="506.43" r="2.35" fill="#000"/>
<circle cx="73.65" cy="506.43" r="2.35" fill="#000"/>
<circle cx="74.80" cy="506.43" r="2.35" fill="#000"/>
<rect x="81.35" y="506.80" width="5.70" height="247.70" fill="#dbefc1" stroke="#000" stroke-width="1.1"/>
<circle cx="83.05" cy="506.43" r="2.35" fill="#000"/>
<circle cx="84.20" cy="506.43" r="2.35" fill="#000"/>
<circle cx="85.35" cy="506.43" r="2.35" fill="#000"/>
<rect x="98.28" y="516.71" width="5.70" height="237.79" fill="#b9cfed" stroke="#000" stroke-width="1.1"/>
<line x1="101.13" y1="513.74" x2="101.13" y2="519.68" stroke="#000" stroke-width="1.0" stroke-linecap="butt"/>
<line x1="99.03" y1="513.74" x2="103.23" y2="513.74" stroke="#000" stroke-width="1.0" stroke-linecap="butt"/>
<line x1="99.03" y1="519.68" x2="103.23" y2="519.68" stroke="#000" stroke-width="1.0" stroke-linecap="butt"/>
<circle cx="100.13" cy="511.75" r="2.35" fill="#000"/>
<circle cx="101.63" cy="516.71" r="2.35" fill="#000"/>
<circle cx="101.13" cy="518.44" r="2.35" fill="#000"/>
<rect x="108.78" y="509.03" width="5.70" height="245.47" fill="#cfc4e9" stroke="#000" stroke-width="1.1"/>
<line x1="111.63" y1="503.08" x2="111.63" y2="514.97" stroke="#000" stroke-width="1.0" stroke-linecap="butt"/>
<line x1="109.53" y1="503.08" x2="113.73" y2="503.08" stroke="#000" stroke-width="1.0" stroke-linecap="butt"/>
<line x1="109.53" y1="514.97" x2="113.73" y2="514.97" stroke="#000" stroke-width="1.0" stroke-linecap="butt"/>
<circle cx="111.63" cy="500.61" r="2.35" fill="#000"/>
<circle cx="112.43" cy="509.28" r="2.35" fill="#000"/>
<circle cx="111.13" cy="512.74" r="2.35" fill="#000"/>
<rect x="119.38" y="517.95" width="5.70" height="236.55" fill="#f6c9f4" stroke="#000" stroke-width="1.1"/>
<line x1="122.23" y1="510.52" x2="122.23" y2="525.38" stroke="#000" stroke-width="1.0" stroke-linecap="butt"/>
<line x1="120.13" y1="510.52" x2="124.33" y2="510.52" stroke="#000" stroke-width="1.0" stroke-linecap="butt"/>
<line x1="120.13" y1="525.38" x2="124.33" y2="525.38" stroke="#000" stroke-width="1.0" stroke-linecap="butt"/>
<circle cx="122.23" cy="510.27" r="2.35" fill="#000"/>
<circle cx="122.23" cy="517.70" r="2.35" fill="#000"/>
<circle cx="122.23" cy="525.13" r="2.35" fill="#000"/>
<rect x="129.93" y="509.03" width="5.70" height="245.47" fill="#dbefc1" stroke="#000" stroke-width="1.1"/>
<line x1="132.78" y1="508.04" x2="132.78" y2="510.02" stroke="#000" stroke-width="1.0" stroke-linecap="butt"/>
<line x1="130.68" y1="508.04" x2="134.88" y2="508.04" stroke="#000" stroke-width="1.0" stroke-linecap="butt"/>
<line x1="130.68" y1="510.02" x2="134.88" y2="510.02" stroke="#000" stroke-width="1.0" stroke-linecap="butt"/>
<circle cx="131.63" cy="509.65" r="2.35" fill="#000"/>
<circle cx="132.78" cy="508.41" r="2.35" fill="#000"/>
<circle cx="133.93" cy="509.03" r="2.35" fill="#000"/>
<rect x="146.86" y="519.18" width="5.70" height="235.32" fill="#b9cfed" stroke="#000" stroke-width="1.1"/>
<line x1="149.71" y1="518.19" x2="149.71" y2="520.18" stroke="#000" stroke-width="1.0" stroke-linecap="butt"/>
<line x1="147.61" y1="518.19" x2="151.81" y2="518.19" stroke="#000" stroke-width="1.0" stroke-linecap="butt"/>
<line x1="147.61" y1="520.18" x2="151.81" y2="520.18" stroke="#000" stroke-width="1.0" stroke-linecap="butt"/>
<circle cx="148.56" cy="519.80" r="2.35" fill="#000"/>
<circle cx="149.71" cy="518.57" r="2.35" fill="#000"/>
<circle cx="150.86" cy="519.18" r="2.35" fill="#000"/>
<rect x="157.36" y="523.40" width="5.70" height="231.10" fill="#cfc4e9" stroke="#000" stroke-width="1.1"/>
<line x1="160.21" y1="522.16" x2="160.21" y2="524.63" stroke="#000" stroke-width="1.0" stroke-linecap="butt"/>
<line x1="158.11" y1="522.16" x2="162.31" y2="522.16" stroke="#000" stroke-width="1.0" stroke-linecap="butt"/>
<line x1="158.11" y1="524.63" x2="162.31" y2="524.63" stroke="#000" stroke-width="1.0" stroke-linecap="butt"/>
<circle cx="159.06" cy="523.77" r="2.35" fill="#000"/>
<circle cx="160.21" cy="522.53" r="2.35" fill="#000"/>
<circle cx="161.36" cy="523.15" r="2.35" fill="#000"/>
<rect x="167.96" y="511.75" width="5.70" height="242.75" fill="#f6c9f4" stroke="#000" stroke-width="1.1"/>
<line x1="170.81" y1="508.78" x2="170.81" y2="514.73" stroke="#000" stroke-width="1.0" stroke-linecap="butt"/>
<line x1="168.71" y1="508.78" x2="172.91" y2="508.78" stroke="#000" stroke-width="1.0" stroke-linecap="butt"/>
<line x1="168.71" y1="514.73" x2="172.91" y2="514.73" stroke="#000" stroke-width="1.0" stroke-linecap="butt"/>
<circle cx="170.21" cy="507.79" r="2.35" fill="#000"/>
<circle cx="171.61" cy="511.26" r="2.35" fill="#000"/>
<circle cx="170.81" cy="514.73" r="2.35" fill="#000"/>
<rect x="178.51" y="520.18" width="5.70" height="234.32" fill="#dbefc1" stroke="#000" stroke-width="1.1"/>
<line x1="181.36" y1="514.73" x2="181.36" y2="525.63" stroke="#000" stroke-width="1.0" stroke-linecap="butt"/>
<line x1="179.26" y1="514.73" x2="183.46" y2="514.73" stroke="#000" stroke-width="1.0" stroke-linecap="butt"/>
<line x1="179.26" y1="525.63" x2="183.46" y2="525.63" stroke="#000" stroke-width="1.0" stroke-linecap="butt"/>
<circle cx="181.36" cy="513.74" r="2.35" fill="#000"/>
<circle cx="181.86" cy="521.66" r="2.35" fill="#000"/>
<circle cx="181.36" cy="525.63" r="2.35" fill="#000"/>
<rect x="195.44" y="515.72" width="5.70" height="238.78" fill="#b9cfed" stroke="#000" stroke-width="1.1"/>
<line x1="198.29" y1="510.27" x2="198.29" y2="521.17" stroke="#000" stroke-width="1.0" stroke-linecap="butt"/>
<line x1="196.19" y1="510.27" x2="200.39" y2="510.27" stroke="#000" stroke-width="1.0" stroke-linecap="butt"/>
<line x1="196.19" y1="521.17" x2="200.39" y2="521.17" stroke="#000" stroke-width="1.0" stroke-linecap="butt"/>
<circle cx="197.79" cy="510.02" r="2.35" fill="#000"/>
<circle cx="198.79" cy="515.22" r="2.35" fill="#000"/>
<circle cx="198.29" cy="521.66" r="2.35" fill="#000"/>
<rect x="205.94" y="523.40" width="5.70" height="231.10" fill="#cfc4e9" stroke="#000" stroke-width="1.1"/>
<line x1="208.79" y1="520.42" x2="208.79" y2="526.37" stroke="#000" stroke-width="1.0" stroke-linecap="butt"/>
<line x1="206.69" y1="520.42" x2="210.89" y2="520.42" stroke="#000" stroke-width="1.0" stroke-linecap="butt"/>
<line x1="206.69" y1="526.37" x2="210.89" y2="526.37" stroke="#000" stroke-width="1.0" stroke-linecap="butt"/>
<circle cx="209.09" cy="518.19" r="2.35" fill="#000"/>
<circle cx="207.99" cy="523.64" r="2.35" fill="#000"/>
<circle cx="209.59" cy="523.15" r="2.35" fill="#000"/>
<rect x="216.54" y="516.71" width="5.70" height="237.79" fill="#f6c9f4" stroke="#000" stroke-width="1.1"/>
<line x1="219.39" y1="512.74" x2="219.39" y2="520.67" stroke="#000" stroke-width="1.0" stroke-linecap="butt"/>
<line x1="217.29" y1="512.74" x2="221.49" y2="512.74" stroke="#000" stroke-width="1.0" stroke-linecap="butt"/>
<line x1="217.29" y1="520.67" x2="221.49" y2="520.67" stroke="#000" stroke-width="1.0" stroke-linecap="butt"/>
<circle cx="219.39" cy="511.26" r="2.35" fill="#000"/>
<circle cx="219.99" cy="516.71" r="2.35" fill="#000"/>
<circle cx="218.79" cy="519.18" r="2.35" fill="#000"/>
<rect x="227.09" y="550.89" width="5.70" height="203.61" fill="#dbefc1" stroke="#000" stroke-width="1.1"/>
<line x1="229.94" y1="536.03" x2="229.94" y2="565.75" stroke="#000" stroke-width="1.0" stroke-linecap="butt"/>
<line x1="227.84" y1="536.03" x2="232.04" y2="536.03" stroke="#000" stroke-width="1.0" stroke-linecap="butt"/>
<line x1="227.84" y1="565.75" x2="232.04" y2="565.75" stroke="#000" stroke-width="1.0" stroke-linecap="butt"/>
<circle cx="229.94" cy="538.01" r="2.35" fill="#000"/>
<circle cx="229.94" cy="549.90" r="2.35" fill="#000"/>
<circle cx="229.94" cy="565.26" r="2.35" fill="#000"/>
<rect x="244.02" y="517.95" width="5.70" height="236.55" fill="#b9cfed" stroke="#000" stroke-width="1.1"/>
<line x1="246.87" y1="512.00" x2="246.87" y2="523.89" stroke="#000" stroke-width="1.0" stroke-linecap="butt"/>
<line x1="244.77" y1="512.00" x2="248.97" y2="512.00" stroke="#000" stroke-width="1.0" stroke-linecap="butt"/>
<line x1="244.77" y1="523.89" x2="248.97" y2="523.89" stroke="#000" stroke-width="1.0" stroke-linecap="butt"/>
<circle cx="246.87" cy="511.26" r="2.35" fill="#000"/>
<circle cx="246.87" cy="517.70" r="2.35" fill="#000"/>
<circle cx="246.87" cy="523.64" r="2.35" fill="#000"/>
<rect x="254.52" y="514.73" width="5.70" height="239.77" fill="#cfc4e9" stroke="#000" stroke-width="1.1"/>
<line x1="257.37" y1="513.49" x2="257.37" y2="515.96" stroke="#000" stroke-width="1.0" stroke-linecap="butt"/>
<line x1="255.27" y1="513.49" x2="259.47" y2="513.49" stroke="#000" stroke-width="1.0" stroke-linecap="butt"/>
<line x1="255.27" y1="515.96" x2="259.47" y2="515.96" stroke="#000" stroke-width="1.0" stroke-linecap="butt"/>
<circle cx="256.37" cy="515.22" r="2.35" fill="#000"/>
<circle cx="257.67" cy="512.74" r="2.35" fill="#000"/>
<circle cx="258.37" cy="513.74" r="2.35" fill="#000"/>
<rect x="265.12" y="517.95" width="5.70" height="236.55" fill="#f6c9f4" stroke="#000" stroke-width="1.1"/>
<line x1="267.97" y1="517.20" x2="267.97" y2="518.69" stroke="#000" stroke-width="1.0" stroke-linecap="butt"/>
<line x1="265.87" y1="517.20" x2="270.07" y2="517.20" stroke="#000" stroke-width="1.0" stroke-linecap="butt"/>
<line x1="265.87" y1="518.69" x2="270.07" y2="518.69" stroke="#000" stroke-width="1.0" stroke-linecap="butt"/>
<circle cx="266.82" cy="518.57" r="2.35" fill="#000"/>
<circle cx="267.97" cy="517.33" r="2.35" fill="#000"/>
<circle cx="269.12" cy="517.95" r="2.35" fill="#000"/>
<rect x="275.67" y="562.53" width="5.70" height="191.97" fill="#dbefc1" stroke="#000" stroke-width="1.1"/>
<line x1="278.52" y1="544.70" x2="278.52" y2="580.37" stroke="#000" stroke-width="1.0" stroke-linecap="butt"/>
<line x1="276.42" y1="544.70" x2="280.62" y2="544.70" stroke="#000" stroke-width="1.0" stroke-linecap="butt"/>
<line x1="276.42" y1="580.37" x2="280.62" y2="580.37" stroke="#000" stroke-width="1.0" stroke-linecap="butt"/>
<circle cx="278.52" cy="543.46" r="2.35" fill="#000"/>
<circle cx="278.52" cy="563.77" r="2.35" fill="#000"/>
<circle cx="278.52" cy="577.64" r="2.35" fill="#000"/>
<rect x="292.60" y="519.18" width="5.70" height="235.32" fill="#b9cfed" stroke="#000" stroke-width="1.1"/>
<line x1="295.45" y1="514.23" x2="295.45" y2="524.14" stroke="#000" stroke-width="1.0" stroke-linecap="butt"/>
<line x1="293.35" y1="514.23" x2="297.55" y2="514.23" stroke="#000" stroke-width="1.0" stroke-linecap="butt"/>
<line x1="293.35" y1="524.14" x2="297.55" y2="524.14" stroke="#000" stroke-width="1.0" stroke-linecap="butt"/>
<circle cx="295.05" cy="512.74" r="2.35" fill="#000"/>
<circle cx="295.85" cy="518.69" r="2.35" fill="#000"/>
<circle cx="295.45" cy="522.65" r="2.35" fill="#000"/>
<rect x="303.10" y="517.95" width="5.70" height="236.55" fill="#cfc4e9" stroke="#000" stroke-width="1.1"/>
<line x1="305.95" y1="513.98" x2="305.95" y2="521.91" stroke="#000" stroke-width="1.0" stroke-linecap="butt"/>
<line x1="303.85" y1="513.98" x2="308.05" y2="513.98" stroke="#000" stroke-width="1.0" stroke-linecap="butt"/>
<line x1="303.85" y1="521.91" x2="308.05" y2="521.91" stroke="#000" stroke-width="1.0" stroke-linecap="butt"/>
<circle cx="305.55" cy="513.74" r="2.35" fill="#000"/>
<circle cx="306.55" cy="517.20" r="2.35" fill="#000"/>
<circle cx="305.95" cy="521.66" r="2.35" fill="#000"/>
<rect x="313.70" y="561.05" width="5.70" height="193.45" fill="#f6c9f4" stroke="#000" stroke-width="1.1"/>
<line x1="316.55" y1="558.07" x2="316.55" y2="564.02" stroke="#000" stroke-width="1.0" stroke-linecap="butt"/>
<line x1="314.45" y1="558.07" x2="318.65" y2="558.07" stroke="#000" stroke-width="1.0" stroke-linecap="butt"/>
<line x1="314.45" y1="564.02" x2="318.65" y2="564.02" stroke="#000" stroke-width="1.0" stroke-linecap="butt"/>
<circle cx="315.95" cy="557.33" r="2.35" fill="#000"/>
<circle cx="317.35" cy="559.81" r="2.35" fill="#000"/>
<circle cx="316.55" cy="563.77" r="2.35" fill="#000"/>
<rect x="324.25" y="714.37" width="5.70" height="40.13" fill="#dbefc1" stroke="#000" stroke-width="1.1"/>
<line x1="327.10" y1="707.44" x2="327.10" y2="721.31" stroke="#000" stroke-width="1.0" stroke-linecap="butt"/>
<line x1="325.00" y1="707.44" x2="329.20" y2="707.44" stroke="#000" stroke-width="1.0" stroke-linecap="butt"/>
<line x1="325.00" y1="721.31" x2="329.20" y2="721.31" stroke="#000" stroke-width="1.0" stroke-linecap="butt"/>
<circle cx="327.10" cy="706.45" r="2.35" fill="#000"/>
<circle cx="327.40" cy="715.86" r="2.35" fill="#000"/>
<circle cx="327.10" cy="719.82" r="2.35" fill="#000"/>
<rect x="341.18" y="513.24" width="5.70" height="241.26" fill="#b9cfed" stroke="#000" stroke-width="1.1"/>
<line x1="344.03" y1="507.79" x2="344.03" y2="518.69" stroke="#000" stroke-width="1.0" stroke-linecap="butt"/>
<line x1="341.93" y1="507.79" x2="346.13" y2="507.79" stroke="#000" stroke-width="1.0" stroke-linecap="butt"/>
<line x1="341.93" y1="518.69" x2="346.13" y2="518.69" stroke="#000" stroke-width="1.0" stroke-linecap="butt"/>
<circle cx="343.43" cy="507.30" r="2.35" fill="#000"/>
<circle cx="344.83" cy="511.26" r="2.35" fill="#000"/>
<circle cx="344.03" cy="518.19" r="2.35" fill="#000"/>
<rect x="351.68" y="519.68" width="5.70" height="234.82" fill="#cfc4e9" stroke="#000" stroke-width="1.1"/>
<line x1="354.53" y1="514.23" x2="354.53" y2="525.13" stroke="#000" stroke-width="1.0" stroke-linecap="butt"/>
<line x1="352.43" y1="514.23" x2="356.63" y2="514.23" stroke="#000" stroke-width="1.0" stroke-linecap="butt"/>
<line x1="352.43" y1="525.13" x2="356.63" y2="525.13" stroke="#000" stroke-width="1.0" stroke-linecap="butt"/>
<circle cx="354.53" cy="513.24" r="2.35" fill="#000"/>
<circle cx="354.83" cy="520.67" r="2.35" fill="#000"/>
<circle cx="354.23" cy="523.64" r="2.35" fill="#000"/>
<rect x="362.28" y="655.17" width="5.70" height="99.33" fill="#f6c9f4" stroke="#000" stroke-width="1.1"/>
<line x1="365.13" y1="653.19" x2="365.13" y2="657.15" stroke="#000" stroke-width="1.0" stroke-linecap="butt"/>
<line x1="363.03" y1="653.19" x2="367.23" y2="653.19" stroke="#000" stroke-width="1.0" stroke-linecap="butt"/>
<line x1="363.03" y1="657.15" x2="367.23" y2="657.15" stroke="#000" stroke-width="1.0" stroke-linecap="butt"/>
<circle cx="364.13" cy="652.45" r="2.35" fill="#000"/>
<circle cx="365.93" cy="654.43" r="2.35" fill="#000"/>
<circle cx="365.13" cy="657.40" r="2.35" fill="#000"/>
<rect x="372.83" y="730.10" width="5.70" height="24.40" fill="#dbefc1" stroke="#000" stroke-width="1.1"/>
<line x1="375.68" y1="729.61" x2="375.68" y2="730.60" stroke="#000" stroke-width="1.0" stroke-linecap="butt"/>
<line x1="373.58" y1="729.61" x2="377.78" y2="729.61" stroke="#000" stroke-width="1.0" stroke-linecap="butt"/>
<line x1="373.58" y1="730.60" x2="377.78" y2="730.60" stroke="#000" stroke-width="1.0" stroke-linecap="butt"/>
<circle cx="374.53" cy="730.35" r="2.35" fill="#000"/>
<circle cx="375.68" cy="729.61" r="2.35" fill="#000"/>
<circle cx="376.83" cy="729.98" r="2.35" fill="#000"/>
<rect x="389.76" y="519.18" width="5.70" height="235.32" fill="#b9cfed" stroke="#000" stroke-width="1.1"/>
<line x1="392.61" y1="515.72" x2="392.61" y2="522.65" stroke="#000" stroke-width="1.0" stroke-linecap="butt"/>
<line x1="390.51" y1="515.72" x2="394.71" y2="515.72" stroke="#000" stroke-width="1.0" stroke-linecap="butt"/>
<line x1="390.51" y1="522.65" x2="394.71" y2="522.65" stroke="#000" stroke-width="1.0" stroke-linecap="butt"/>
<circle cx="393.21" cy="514.23" r="2.35" fill="#000"/>
<circle cx="392.01" cy="519.18" r="2.35" fill="#000"/>
<circle cx="392.61" cy="521.66" r="2.35" fill="#000"/>
<rect x="400.26" y="515.22" width="5.70" height="239.28" fill="#cfc4e9" stroke="#000" stroke-width="1.1"/>
<line x1="403.11" y1="506.30" x2="403.11" y2="524.14" stroke="#000" stroke-width="1.0" stroke-linecap="butt"/>
<line x1="401.01" y1="506.30" x2="405.21" y2="506.30" stroke="#000" stroke-width="1.0" stroke-linecap="butt"/>
<line x1="401.01" y1="524.14" x2="405.21" y2="524.14" stroke="#000" stroke-width="1.0" stroke-linecap="butt"/>
<circle cx="403.11" cy="507.30" r="2.35" fill="#000"/>
<circle cx="403.11" cy="513.74" r="2.35" fill="#000"/>
<circle cx="403.11" cy="524.63" r="2.35" fill="#000"/>
<rect x="410.86" y="698.02" width="5.70" height="56.48" fill="#f6c9f4" stroke="#000" stroke-width="1.1"/>
<line x1="413.71" y1="687.13" x2="413.71" y2="708.92" stroke="#000" stroke-width="1.0" stroke-linecap="butt"/>
<line x1="411.61" y1="687.13" x2="415.81" y2="687.13" stroke="#000" stroke-width="1.0" stroke-linecap="butt"/>
<line x1="411.61" y1="708.92" x2="415.81" y2="708.92" stroke="#000" stroke-width="1.0" stroke-linecap="butt"/>
<circle cx="413.71" cy="686.13" r="2.35" fill="#000"/>
<circle cx="414.01" cy="700.01" r="2.35" fill="#000"/>
<circle cx="413.71" cy="707.44" r="2.35" fill="#000"/>
<rect x="421.41" y="729.23" width="5.70" height="25.27" fill="#dbefc1" stroke="#000" stroke-width="1.1"/>
<line x1="424.26" y1="728.74" x2="424.26" y2="729.73" stroke="#000" stroke-width="1.0" stroke-linecap="butt"/>
<line x1="422.16" y1="728.74" x2="426.36" y2="728.74" stroke="#000" stroke-width="1.0" stroke-linecap="butt"/>
<line x1="422.16" y1="729.73" x2="426.36" y2="729.73" stroke="#000" stroke-width="1.0" stroke-linecap="butt"/>
<circle cx="423.11" cy="729.36" r="2.35" fill="#000"/>
<circle cx="424.26" cy="728.62" r="2.35" fill="#000"/>
<circle cx="425.41" cy="728.99" r="2.35" fill="#000"/>
<rect x="438.34" y="530.33" width="5.70" height="224.17" fill="#b9cfed" stroke="#000" stroke-width="1.1"/>
<line x1="441.19" y1="529.09" x2="441.19" y2="531.57" stroke="#000" stroke-width="1.0" stroke-linecap="butt"/>
<line x1="439.09" y1="529.09" x2="443.29" y2="529.09" stroke="#000" stroke-width="1.0" stroke-linecap="butt"/>
<line x1="439.09" y1="531.57" x2="443.29" y2="531.57" stroke="#000" stroke-width="1.0" stroke-linecap="butt"/>
<circle cx="440.19" cy="531.07" r="2.35" fill="#000"/>
<circle cx="441.49" cy="528.60" r="2.35" fill="#000"/>
<circle cx="442.19" cy="530.08" r="2.35" fill="#000"/>
<rect x="448.84" y="528.35" width="5.70" height="226.15" fill="#cfc4e9" stroke="#000" stroke-width="1.1"/>
<line x1="451.69" y1="521.91" x2="451.69" y2="534.79" stroke="#000" stroke-width="1.0" stroke-linecap="butt"/>
<line x1="449.59" y1="521.91" x2="453.79" y2="521.91" stroke="#000" stroke-width="1.0" stroke-linecap="butt"/>
<line x1="449.59" y1="534.79" x2="453.79" y2="534.79" stroke="#000" stroke-width="1.0" stroke-linecap="butt"/>
<circle cx="451.69" cy="520.18" r="2.35" fill="#000"/>
<circle cx="450.89" cy="531.07" r="2.35" fill="#000"/>
<circle cx="452.49" cy="531.57" r="2.35" fill="#000"/>
<rect x="459.44" y="701.49" width="5.70" height="53.01" fill="#f6c9f4" stroke="#000" stroke-width="1.1"/>
<line x1="462.29" y1="692.58" x2="462.29" y2="710.41" stroke="#000" stroke-width="1.0" stroke-linecap="butt"/>
<line x1="460.19" y1="692.58" x2="464.39" y2="692.58" stroke="#000" stroke-width="1.0" stroke-linecap="butt"/>
<line x1="460.19" y1="710.41" x2="464.39" y2="710.41" stroke="#000" stroke-width="1.0" stroke-linecap="butt"/>
<circle cx="462.29" cy="690.59" r="2.35" fill="#000"/>
<circle cx="462.89" cy="702.98" r="2.35" fill="#000"/>
<circle cx="461.99" cy="708.43" r="2.35" fill="#000"/>
<rect x="469.99" y="729.23" width="5.70" height="25.27" fill="#dbefc1" stroke="#000" stroke-width="1.1"/>
<line x1="472.84" y1="728.74" x2="472.84" y2="729.73" stroke="#000" stroke-width="1.0" stroke-linecap="butt"/>
<line x1="470.74" y1="728.74" x2="474.94" y2="728.74" stroke="#000" stroke-width="1.0" stroke-linecap="butt"/>
<line x1="470.74" y1="729.73" x2="474.94" y2="729.73" stroke="#000" stroke-width="1.0" stroke-linecap="butt"/>
<circle cx="471.69" cy="729.36" r="2.35" fill="#000"/>
<circle cx="472.84" cy="728.62" r="2.35" fill="#000"/>
<circle cx="473.99" cy="728.99" r="2.35" fill="#000"/>
<rect x="486.92" y="543.46" width="5.70" height="211.04" fill="#b9cfed" stroke="#000" stroke-width="1.1"/>
<line x1="489.77" y1="538.01" x2="489.77" y2="548.91" stroke="#000" stroke-width="1.0" stroke-linecap="butt"/>
<line x1="487.67" y1="538.01" x2="491.87" y2="538.01" stroke="#000" stroke-width="1.0" stroke-linecap="butt"/>
<line x1="487.67" y1="548.91" x2="491.87" y2="548.91" stroke="#000" stroke-width="1.0" stroke-linecap="butt"/>
<circle cx="489.77" cy="537.02" r="2.35" fill="#000"/>
<circle cx="490.27" cy="543.96" r="2.35" fill="#000"/>
<circle cx="489.77" cy="548.41" r="2.35" fill="#000"/>
<rect x="497.42" y="549.16" width="5.70" height="205.34" fill="#cfc4e9" stroke="#000" stroke-width="1.1"/>
<line x1="500.27" y1="543.71" x2="500.27" y2="554.61" stroke="#000" stroke-width="1.0" stroke-linecap="butt"/>
<line x1="498.17" y1="543.71" x2="502.37" y2="543.71" stroke="#000" stroke-width="1.0" stroke-linecap="butt"/>
<line x1="498.17" y1="554.61" x2="502.37" y2="554.61" stroke="#000" stroke-width="1.0" stroke-linecap="butt"/>
<circle cx="500.27" cy="542.47" r="2.35" fill="#000"/>
<circle cx="499.77" cy="550.40" r="2.35" fill="#000"/>
<circle cx="500.77" cy="553.37" r="2.35" fill="#000"/>
<rect x="508.02" y="702.73" width="5.70" height="51.77" fill="#f6c9f4" stroke="#000" stroke-width="1.1"/>
<line x1="510.87" y1="694.31" x2="510.87" y2="711.15" stroke="#000" stroke-width="1.0" stroke-linecap="butt"/>
<line x1="508.77" y1="694.31" x2="512.97" y2="694.31" stroke="#000" stroke-width="1.0" stroke-linecap="butt"/>
<line x1="508.77" y1="711.15" x2="512.97" y2="711.15" stroke="#000" stroke-width="1.0" stroke-linecap="butt"/>
<circle cx="510.87" cy="693.07" r="2.35" fill="#000"/>
<circle cx="511.37" cy="703.97" r="2.35" fill="#000"/>
<circle cx="510.87" cy="709.42" r="2.35" fill="#000"/>
<rect x="518.57" y="729.98" width="5.70" height="24.52" fill="#dbefc1" stroke="#000" stroke-width="1.1"/>
<line x1="521.42" y1="729.36" x2="521.42" y2="730.60" stroke="#000" stroke-width="1.0" stroke-linecap="butt"/>
<line x1="519.32" y1="729.36" x2="523.52" y2="729.36" stroke="#000" stroke-width="1.0" stroke-linecap="butt"/>
<line x1="519.32" y1="730.60" x2="523.52" y2="730.60" stroke="#000" stroke-width="1.0" stroke-linecap="butt"/>
<circle cx="520.27" cy="730.10" r="2.35" fill="#000"/>
<circle cx="521.42" cy="729.36" r="2.35" fill="#000"/>
<circle cx="522.57" cy="729.73" r="2.35" fill="#000"/>
<rect x="535.50" y="554.36" width="5.70" height="200.14" fill="#b9cfed" stroke="#000" stroke-width="1.1"/>
<line x1="538.35" y1="546.18" x2="538.35" y2="562.53" stroke="#000" stroke-width="1.0" stroke-linecap="butt"/>
<line x1="536.25" y1="546.18" x2="540.45" y2="546.18" stroke="#000" stroke-width="1.0" stroke-linecap="butt"/>
<line x1="536.25" y1="562.53" x2="540.45" y2="562.53" stroke="#000" stroke-width="1.0" stroke-linecap="butt"/>
<circle cx="538.35" cy="544.95" r="2.35" fill="#000"/>
<circle cx="538.65" cy="555.35" r="2.35" fill="#000"/>
<circle cx="538.35" cy="560.80" r="2.35" fill="#000"/>
<rect x="546.00" y="592.01" width="5.70" height="162.49" fill="#cfc4e9" stroke="#000" stroke-width="1.1"/>
<line x1="548.85" y1="590.52" x2="548.85" y2="593.50" stroke="#000" stroke-width="1.0" stroke-linecap="butt"/>
<line x1="546.75" y1="590.52" x2="550.95" y2="590.52" stroke="#000" stroke-width="1.0" stroke-linecap="butt"/>
<line x1="546.75" y1="593.50" x2="550.95" y2="593.50" stroke="#000" stroke-width="1.0" stroke-linecap="butt"/>
<circle cx="548.05" cy="593.50" r="2.35" fill="#000"/>
<circle cx="549.45" cy="590.03" r="2.35" fill="#000"/>
<circle cx="549.75" cy="592.01" r="2.35" fill="#000"/>
<rect x="556.60" y="702.73" width="5.70" height="51.77" fill="#f6c9f4" stroke="#000" stroke-width="1.1"/>
<line x1="559.45" y1="700.50" x2="559.45" y2="704.96" stroke="#000" stroke-width="1.0" stroke-linecap="butt"/>
<line x1="557.35" y1="700.50" x2="561.55" y2="700.50" stroke="#000" stroke-width="1.0" stroke-linecap="butt"/>
<line x1="557.35" y1="704.96" x2="561.55" y2="704.96" stroke="#000" stroke-width="1.0" stroke-linecap="butt"/>
<circle cx="558.85" cy="700.25" r="2.35" fill="#000"/>
<circle cx="560.25" cy="701.99" r="2.35" fill="#000"/>
<circle cx="559.75" cy="705.46" r="2.35" fill="#000"/>
<rect x="567.15" y="725.52" width="5.70" height="28.98" fill="#dbefc1" stroke="#000" stroke-width="1.1"/>
<line x1="570.00" y1="723.04" x2="570.00" y2="728.00" stroke="#000" stroke-width="1.0" stroke-linecap="butt"/>
<line x1="567.90" y1="723.04" x2="572.10" y2="723.04" stroke="#000" stroke-width="1.0" stroke-linecap="butt"/>
<line x1="567.90" y1="728.00" x2="572.10" y2="728.00" stroke="#000" stroke-width="1.0" stroke-linecap="butt"/>
<circle cx="569.50" cy="722.55" r="2.35" fill="#000"/>
<circle cx="570.90" cy="725.77" r="2.35" fill="#000"/>
<circle cx="570.00" cy="727.75" r="2.35" fill="#000"/>
<line x1="46.30" y1="493.00" x2="46.30" y2="755.60" stroke="#000" stroke-width="2.2" stroke-linecap="butt"/>
<line x1="45.20" y1="754.50" x2="578.00" y2="754.50" stroke="#000" stroke-width="2.2" stroke-linecap="butt"/>
<line x1="36.40" y1="754.50" x2="46.30" y2="754.50" stroke="#000" stroke-width="2.1" stroke-linecap="butt"/>
<text x="33.30" y="758.20" font-size="10.2" font-weight="bold" text-anchor="end" fill="#000" >0</text>
<line x1="36.40" y1="630.65" x2="46.30" y2="630.65" stroke="#000" stroke-width="2.1" stroke-linecap="butt"/>
<text x="33.30" y="634.35" font-size="10.2" font-weight="bold" text-anchor="end" fill="#000" >50</text>
<line x1="36.40" y1="506.80" x2="46.30" y2="506.80" stroke="#000" stroke-width="2.1" stroke-linecap="butt"/>
<text x="33.30" y="510.50" font-size="10.2" font-weight="bold" text-anchor="end" fill="#000" >100</text>
<line x1="68.20" y1="754.50" x2="68.20" y2="763.10" stroke="#000" stroke-width="2.1" stroke-linecap="butt"/>
<text x="68.40" y="775.60" font-size="10.3" font-weight="bold" text-anchor="middle" fill="#000" letter-spacing="0.4">1</text>
<line x1="116.78" y1="754.50" x2="116.78" y2="763.10" stroke="#000" stroke-width="2.1" stroke-linecap="butt"/>
<text x="116.98" y="775.60" font-size="10.3" font-weight="bold" text-anchor="middle" fill="#000" letter-spacing="0.4">0.5</text>
<line x1="165.36" y1="754.50" x2="165.36" y2="763.10" stroke="#000" stroke-width="2.1" stroke-linecap="butt"/>
<text x="165.56" y="775.60" font-size="10.3" font-weight="bold" text-anchor="middle" fill="#000" letter-spacing="0.4">0.25</text>
<line x1="213.94" y1="754.50" x2="213.94" y2="763.10" stroke="#000" stroke-width="2.1" stroke-linecap="butt"/>
<text x="214.14" y="775.60" font-size="10.3" font-weight="bold" text-anchor="middle" fill="#000" letter-spacing="0.4">0.125</text>
<line x1="262.52" y1="754.50" x2="262.52" y2="763.10" stroke="#000" stroke-width="2.1" stroke-linecap="butt"/>
<text x="262.72" y="775.60" font-size="10.3" font-weight="bold" text-anchor="middle" fill="#000" letter-spacing="0.4">0.062</text>
<line x1="311.10" y1="754.50" x2="311.10" y2="763.10" stroke="#000" stroke-width="2.1" stroke-linecap="butt"/>
<text x="311.30" y="775.60" font-size="10.3" font-weight="bold" text-anchor="middle" fill="#000" letter-spacing="0.4">0.031</text>
<line x1="359.68" y1="754.50" x2="359.68" y2="763.10" stroke="#000" stroke-width="2.1" stroke-linecap="butt"/>
<text x="359.88" y="775.60" font-size="10.3" font-weight="bold" text-anchor="middle" fill="#000" letter-spacing="0.4">0.015</text>
<line x1="408.26" y1="754.50" x2="408.26" y2="763.10" stroke="#000" stroke-width="2.1" stroke-linecap="butt"/>
<text x="408.46" y="775.60" font-size="10.3" font-weight="bold" text-anchor="middle" fill="#000" letter-spacing="0.4">0.007</text>
<line x1="456.84" y1="754.50" x2="456.84" y2="763.10" stroke="#000" stroke-width="2.1" stroke-linecap="butt"/>
<text x="457.04" y="775.60" font-size="10.3" font-weight="bold" text-anchor="middle" fill="#000" letter-spacing="0.4">0.003</text>
<line x1="505.42" y1="754.50" x2="505.42" y2="763.10" stroke="#000" stroke-width="2.1" stroke-linecap="butt"/>
<text x="505.62" y="775.60" font-size="10.3" font-weight="bold" text-anchor="middle" fill="#000" letter-spacing="0.4">0.001</text>
<line x1="554.00" y1="754.50" x2="554.00" y2="763.10" stroke="#000" stroke-width="2.1" stroke-linecap="butt"/>
<text x="554.20" y="775.60" font-size="10.3" font-weight="bold" text-anchor="middle" fill="#000" letter-spacing="0.4">0</text>
<line x1="50.30" y1="784.40" x2="567.40" y2="784.40" stroke="#000" stroke-width="1.0" stroke-linecap="butt"/>
<text x="301.00" y="799.20" font-size="9.4" font-weight="bold" text-anchor="middle" fill="#000" >Glucose (1%)+Xylose (%)</text>
<text transform="translate(12.20,623.40) rotate(-90)" font-size="9.5" font-weight="bold" text-anchor="middle" fill="#000">Metabolic activity (%)</text>
<text x="-0.90" y="476.90" font-size="17" font-weight="bold" text-anchor="start" fill="#000" >d.</text>
<path d="M219.50 507.70 V503.40 H230.00 V527.80" fill="none" stroke="#111" stroke-width="1.15"/>
<text x="225.10" y="498.40" font-size="12" font-family="'DejaVu Sans', 'Liberation Sans', sans-serif" font-weight="bold" text-anchor="middle" letter-spacing="1.2" fill="#000">***</text>
<path d="M268.50 513.00 V508.20 H279.00 V532.30" fill="none" stroke="#111" stroke-width="1.15"/>
<text x="273.70" y="502.80" font-size="12" font-family="'DejaVu Sans', 'Liberation Sans', sans-serif" font-weight="bold" text-anchor="middle" letter-spacing="1.2" fill="#000">****</text>
<path d="M320.00 548.40 V545.90 H327.50 V695.40" fill="none" stroke="#111" stroke-width="1.15"/>
<text x="323.90" y="541.40" font-size="12" font-family="'DejaVu Sans', 'Liberation Sans', sans-serif" font-weight="bold" text-anchor="middle" letter-spacing="1.2" fill="#000">****</text>
<path d="M369.10 648.00 V645.70 H379.40 V720.50" fill="none" stroke="#111" stroke-width="1.15"/>
<text x="374.00" y="640.70" font-size="12" font-family="'DejaVu Sans', 'Liberation Sans', sans-serif" font-weight="bold" text-anchor="middle" letter-spacing="1.2" fill="#000">****</text>
<path d="M418.80 680.40 V678.30 H427.60 V715.50" fill="none" stroke="#111" stroke-width="1.15"/>
<text x="423.70" y="673.40" font-size="12" font-family="'DejaVu Sans', 'Liberation Sans', sans-serif" font-weight="bold" text-anchor="middle" letter-spacing="1.2" fill="#000">**</text>
<path d="M466.60 682.40 V680.20 H475.20 V721.70" fill="none" stroke="#111" stroke-width="1.15"/>
<text x="471.00" y="675.80" font-size="12" font-family="'DejaVu Sans', 'Liberation Sans', sans-serif" font-weight="bold" text-anchor="middle" letter-spacing="1.2" fill="#000">**</text>
<path d="M515.40 684.00 V682.00 H525.00 V715.40" fill="none" stroke="#111" stroke-width="1.15"/>
<text x="520.80" y="677.00" font-size="12" font-family="'DejaVu Sans', 'Liberation Sans', sans-serif" font-weight="bold" text-anchor="middle" letter-spacing="1.2" fill="#000">*</text>
<path d="M540.50 535.80 V532.80 H550.00 V583.00" fill="none" stroke="#111" stroke-width="1.15"/>
<text x="545.60" y="528.40" font-size="12" font-family="'DejaVu Sans', 'Liberation Sans', sans-serif" font-weight="bold" text-anchor="middle" letter-spacing="1.2" fill="#000">***</text>
<path d="M563.10 693.30 V691.00 H573.40 V715.40" fill="none" stroke="#111" stroke-width="1.15"/>
<text x="569.00" y="685.80" font-size="12" font-family="'DejaVu Sans', 'Liberation Sans', sans-serif" font-weight="bold" text-anchor="middle" letter-spacing="1.2" fill="#000">*</text>
<rect x="570.60" y="482.60" width="12.20" height="11.80" fill="#b9cfed" stroke="#333" stroke-width="0.8"/>
<text x="587.0" y="491.80" font-size="9.4" font-weight="bold">Wild-type<tspan dx="1.3"></tspan></text>
<rect x="570.60" y="500.60" width="12.20" height="11.80" fill="#cfc4e9" stroke="#333" stroke-width="0.8"/>
<text x="587.0" y="509.80" font-size="9.4" font-weight="bold">Wild-type<tspan dx="1.3"> 40µM COL</tspan></text>
<rect x="570.60" y="518.60" width="12.20" height="11.80" fill="#f6c9f4" stroke="#333" stroke-width="0.8"/>
<text x="587.0" y="527.80" font-size="9.4" font-weight="bold"><tspan font-style="italic">xylP::pkcA</tspan><tspan dx="1.0"></tspan></text>
<rect x="570.60" y="536.60" width="12.20" height="11.80" fill="#dbefc1" stroke="#333" stroke-width="0.8"/>
<text x="587.0" y="545.80" font-size="9.4" font-weight="bold"><tspan font-style="italic">xylP::pkcA</tspan><tspan dx="1.0"> 40µM COL</tspan></text>
</g>
</svg>
</body>
</html>
